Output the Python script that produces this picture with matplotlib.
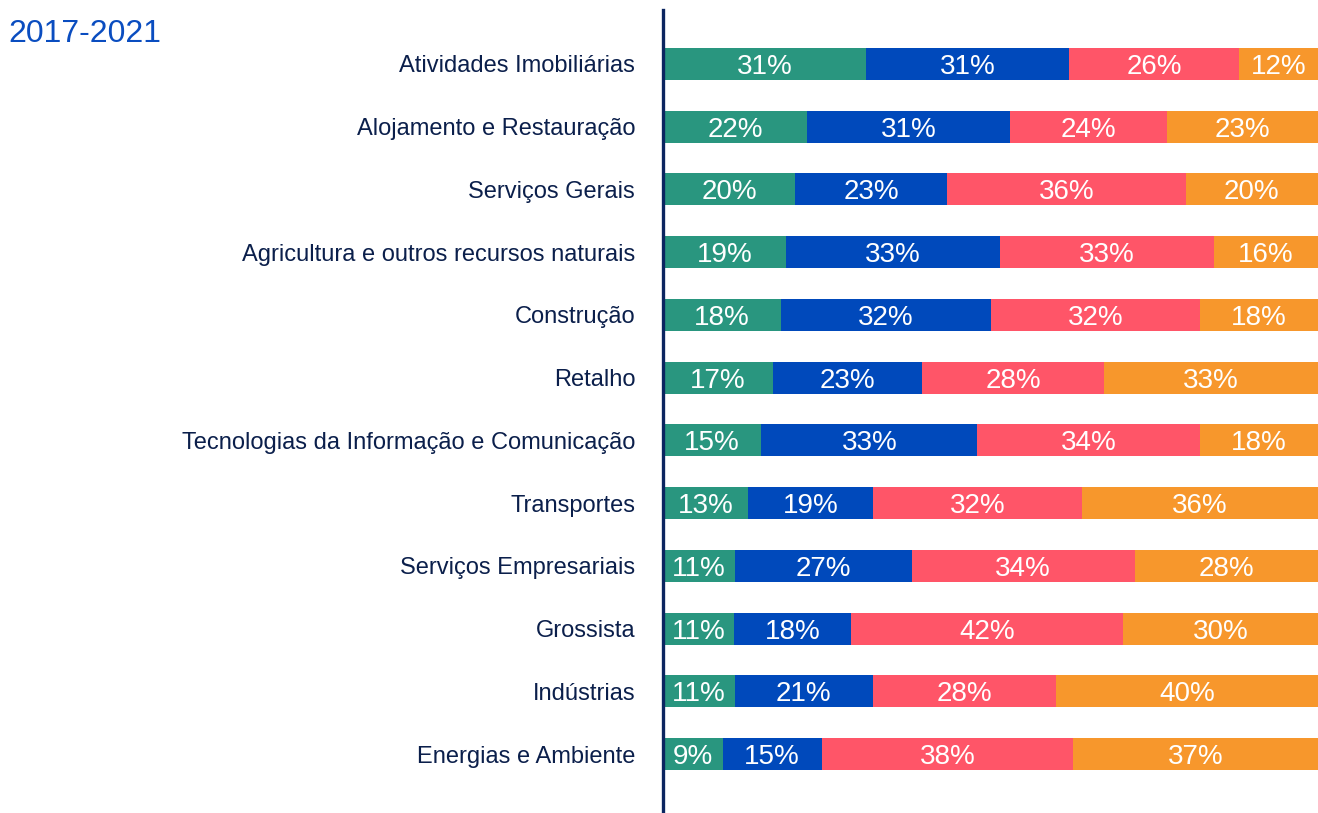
import matplotlib.pyplot as plt
import numpy as np

# sectors, top to bottom
categories = [
    "Atividades Imobiliárias",
    "Alojamento e Restauração",
    "Serviços Gerais",
    "Agricultura e outros recursos naturais",
    "Construção",
    "Retalho",
    "Tecnologias da Informação e Comunicação",
    "Transportes",
    "Serviços Empresariais",
    "Grossista",
    "Indústrias",
    "Energias e Ambiente",
]

# shares (%) for the four stacked groups
share_1 = [31, 22, 20, 19, 18, 17, 15, 13, 11, 11, 11, 9]
share_2 = [31, 31, 23, 33, 32, 23, 33, 19, 27, 18, 21, 15]
share_3 = [26, 24, 36, 33, 32, 28, 34, 32, 34, 42, 28, 38]
share_4 = [12, 23, 20, 16, 18, 33, 18, 36, 28, 30, 40, 37]

title = "2017-2021"
colors = ["#29967F", "#0049BB", "#FF5568", "#F7972C"]

LABEL_COLOR = "#0B1F4B"
TITLE_COLOR = "#0A4DC0"


def main() -> None:
    plt.rcParams['font.family'] = ['Liberation Sans', 'DejaVu Sans']

    fig = plt.figure(figsize=(13.18, 8.13), dpi=100)
    ax = fig.add_axes([663 / 1318, 0.0, 1 - 663 / 1318, 1 - 10 / 813])

    shares = np.array([share_1, share_2, share_3, share_4], dtype=float)
    totals = shares.sum(axis=0)
    widths = shares / totals * 100
    y = np.arange(len(categories))

    left = np.zeros(len(categories))
    for k in range(4):
        ax.barh(y, widths[k], left=left, height=0.51, color=colors[k],
                edgecolor='none')
        for i in range(len(categories)):
            ax.text(left[i] + widths[k][i] / 2, y[i], f"{int(shares[k][i])}%",
                    ha='center', va='center_baseline', color='white',
                    fontsize=20)
        left += widths[k]

    ax.set_xlim(0, 100)
    ax.set_ylim(len(categories) - 1 + 0.94, -0.86)
    ax.set_xticks([])
    ax.set_yticks(y)
    ax.set_yticklabels(categories, fontsize=17, color=LABEL_COLOR)
    ax.tick_params(axis='y', length=0, pad=20)

    for side in ['top', 'right', 'bottom']:
        ax.spines[side].set_visible(False)
    ax.spines['left'].set_color('#0B2560')
    ax.spines['left'].set_linewidth(2.4)
    ax.spines['left'].set_zorder(5)

    fig.text(8 / 1318, 1 - 42 / 813, title, fontsize=23, color=TITLE_COLOR,
             ha='left', va='baseline')

    fig.savefig("out.png", dpi=100)


if __name__ == "__main__":
    main()
